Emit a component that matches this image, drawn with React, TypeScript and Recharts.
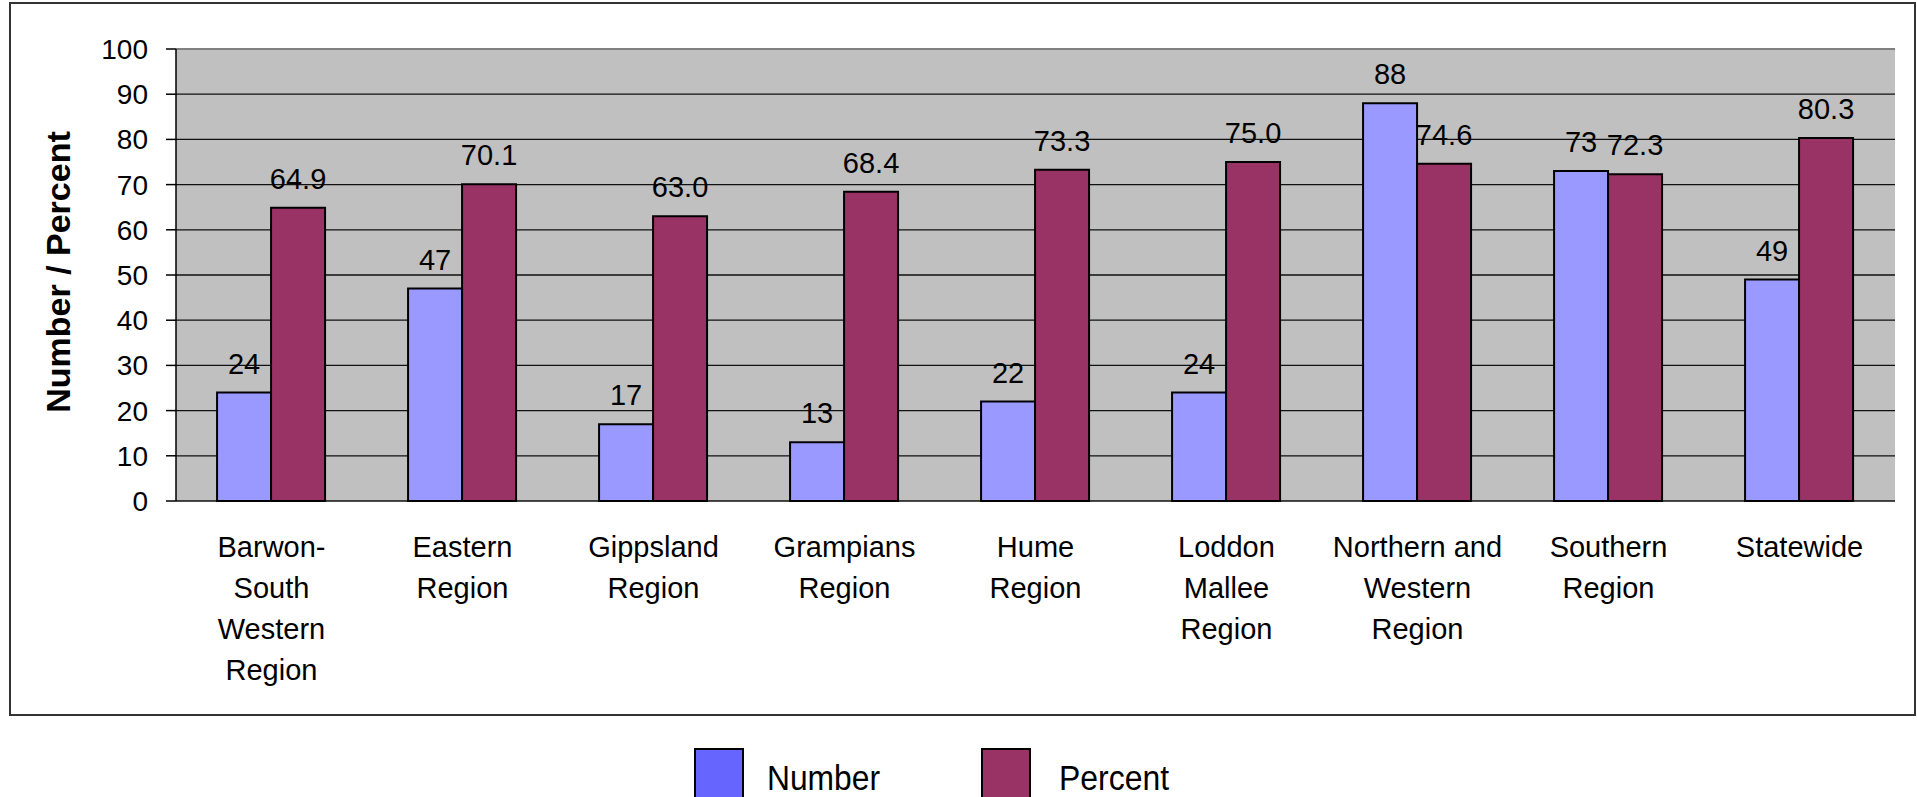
import React from "react"
import {
  BarChart, Bar, XAxis, YAxis, CartesianGrid, LabelList, ReferenceLine,
} from "recharts"

// chart data
const regions = [
  "Barwon-\nSouth\nWestern\nRegion",
  "Eastern\nRegion",
  "Gippsland\nRegion",
  "Grampians\nRegion",
  "Hume\nRegion",
  "Loddon\nMallee\nRegion",
  "Northern and\nWestern\nRegion",
  "Southern\nRegion",
  "Statewide",
]
const numberValues = [24, 47, 17, 13, 22, 24, 88, 73, 49]
const percentValues = [64.9, 70.1, 63.0, 68.4, 73.3, 75.0, 74.6, 72.3, 80.3]
const yTicks = [0, 10, 20, 30, 40, 50, 60, 70, 80, 90, 100]
const boundaryTicks = regions.map((_, i) => i).concat(regions.length)

const FONT = "'Liberation Sans', Arial, Helvetica, sans-serif"
const W = 1917
const H = 797

const chartData = regions.map((region, i) => ({
  region,
  number: numberValues[i],
  percent: percentValues[i],
}))

const legendItems = [
  { name: "Number", color: "#6666FF", box: 695, text: 767, len: 113 },
  { name: "Percent", color: "#993366", box: 982, text: 1059, len: 110 },
]

function RegionTick({ x, y, payload }: any) {
  const lines = String(payload.value).split("\n")
  return (
    <text x={x} y={y} textAnchor="middle" fontSize={29} fill="#000" fontFamily={FONT}>
      {lines.map((l, i) => (
        <tspan key={i} x={x} dy={i === 0 ? 56 : 41}>{l}</tspan>
      ))}
    </text>
  )
}

function YTitle({ viewBox }: any) {
  const cx = viewBox.x + 58
  const cy = viewBox.y + viewBox.height / 2 - 3
  return (
    <text
      x={cx} y={cy} transform={`rotate(-90 ${cx} ${cy})`}
      textAnchor="middle" dominantBaseline="central"
      fontSize={34} fontWeight="bold" fill="#000" fontFamily={FONT}
    >
      Number / Percent
    </text>
  )
}

export default function App() {
  return (
    <div style={{ position: "absolute", left: 0, top: 0, width: W, height: H, background: "#fff" }}>
      <BarChart
        width={W} height={H} data={chartData}
        margin={{ top: 49, right: 22, left: 0, bottom: 0 }}
        barCategoryGap="21.5%" barGap={0}
        style={{ fontFamily: FONT }}
      >
        <CartesianGrid vertical={false} stroke="#111" strokeWidth={1.3} fill="#C0C0C0" fillOpacity={1} />
        {/* tick marks at the category boundaries */}
        <XAxis
          xAxisId="bounds" type="number" domain={[0, regions.length]} ticks={boundaryTicks}
          tick={false} tickSize={10} height={0}
          tickLine={{ stroke: "#000", strokeWidth: 1.5 }} axisLine={{ stroke: "#000", strokeWidth: 1.5 }}
          allowDataOverflow
        />
        <XAxis
          dataKey="region" interval={0} height={296}
          tick={<RegionTick />} tickLine={false} axisLine={false}
          tickSize={0} tickMargin={0}
        />
        <YAxis
          domain={[0, 100]} ticks={yTicks} interval={0} width={176}
          tickSize={10} tickMargin={18}
          tick={{ fontSize: 28, fill: "#000", fontFamily: FONT }}
          tickLine={{ stroke: "#000", strokeWidth: 1.5 }}
          axisLine={{ stroke: "#000", strokeWidth: 1.5 }}
          label={<YTitle />}
        />
        <ReferenceLine y={100} stroke="#808080" strokeWidth={2} />
        <ReferenceLine x={regions.length} xAxisId="bounds" stroke="#808080" strokeWidth={2} />
        <Bar dataKey="number" fill="#9999FF" stroke="#000" strokeWidth={2} isAnimationActive={false}>
          <LabelList
            dataKey="number" position="top" offset={19}
            style={{ fontSize: 29, fill: "#000", fontFamily: FONT }}
          />
        </Bar>
        <Bar dataKey="percent" fill="#993366" stroke="#000" strokeWidth={2} isAnimationActive={false}>
          <LabelList
            dataKey="percent" position="top" offset={19}
            formatter={(v: any) => Number(v).toFixed(1)}
            style={{ fontSize: 29, fill: "#000", fontFamily: FONT }}
          />
        </Bar>
      </BarChart>

      {/* outer frame and legend */}
      <svg width={W} height={H} style={{ position: "absolute", left: 0, top: 0, pointerEvents: "none" }}>
        <rect x={10} y={3} width={1905} height={712} fill="none" stroke="#333" strokeWidth={2} />
        {legendItems.map(it => (
          <g key={it.name}>
            <rect x={it.box} y={749} width={48} height={52} fill={it.color} stroke="#000" strokeWidth={2} />
            <text
              x={it.text} y={790} fontSize={35} fill="#000" fontFamily={FONT}
              textLength={it.len} lengthAdjust="spacingAndGlyphs"
            >
              {it.name}
            </text>
          </g>
        ))}
      </svg>
    </div>
  )
}
